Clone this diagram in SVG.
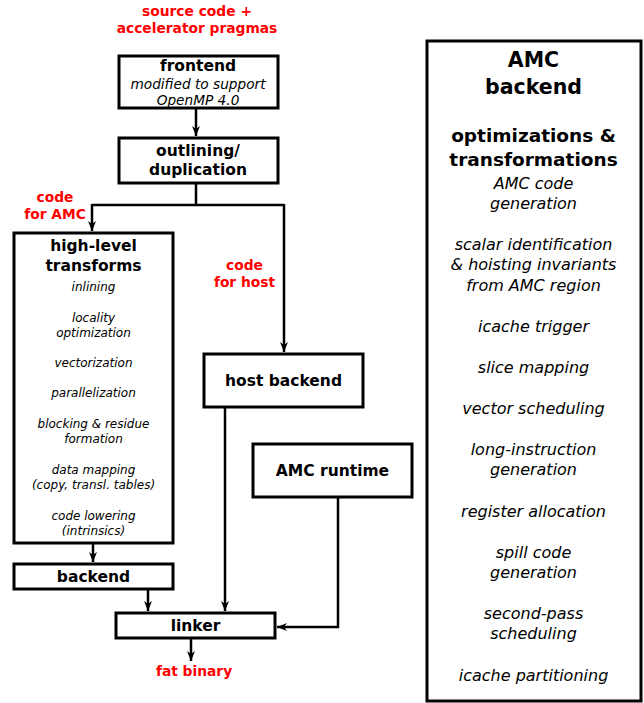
<svg xmlns="http://www.w3.org/2000/svg" width="644" height="703" viewBox="0 0 644 703">
<defs>
<style>
.box{fill:#fff;stroke:#000;stroke-width:3;stroke-linejoin:miter}
.b{font-family:"DejaVu Sans",sans-serif;font-weight:bold;font-size:15.5px;text-anchor:middle;fill:#000}
.i{font-family:"DejaVu Sans",sans-serif;font-style:italic;font-size:13.7px;text-anchor:middle;fill:#000}
.s{font-family:"DejaVu Sans",sans-serif;font-style:italic;font-size:12px;text-anchor:middle;fill:#000}
.m{font-family:"DejaVu Sans",sans-serif;font-style:italic;font-size:16px;text-anchor:middle;fill:#000}
.r{font-family:"DejaVu Sans",sans-serif;font-weight:bold;font-size:13.8px;text-anchor:middle;fill:#ff0000}
.t{font-family:"DejaVu Sans",sans-serif;font-weight:bold;font-size:20.5px;text-anchor:middle;fill:#000}
.o{font-family:"DejaVu Sans",sans-serif;font-weight:bold;font-size:18.5px;text-anchor:middle;fill:#000}
.c{fill:none;stroke:#000;stroke-width:2.5}
</style>
<marker id="ah" viewBox="-10 -5 11 10" refX="0" refY="0" markerWidth="11" markerHeight="10" markerUnits="userSpaceOnUse" orient="auto">
<path d="M0,0 L-10,-4 L-7,0 L-10,4 Z" fill="#000"/>
</marker>
</defs>
<rect width="644" height="703" fill="#fff"/>

<g id="labels">
<text class="r" x="197" y="16">source code +</text>
<text class="r" x="197" y="33">accelerator pragmas</text>
<text class="r" x="55" y="202">code</text>
<text class="r" x="55" y="219">for AMC</text>
<text class="r" x="244.5" y="270">code</text>
<text class="r" x="244.5" y="287">for host</text>
<text class="r" x="194" y="676">fat binary</text>
</g>

<g id="connectors">
<path class="c" d="M196,109 V136" marker-end="url(#ah)"/>
<path class="c" d="M196,184 V205 M92,205 H284"/>
<path class="c" d="M92,204 V231" marker-end="url(#ah)"/>
<path class="c" d="M284,204 V352" marker-end="url(#ah)"/>
<path class="c" d="M93,544 V562" marker-end="url(#ah)"/>
<path class="c" d="M148,590 V611" marker-end="url(#ah)"/>
<path class="c" d="M225,408 V611" marker-end="url(#ah)"/>
<path class="c" d="M338,498 V627 H277" marker-end="url(#ah)"/>
<path class="c" d="M191,639 V661" marker-end="url(#ah)"/>
</g>

<g id="frontend">
<rect class="box" x="119" y="56" width="159" height="52"/>
<text class="b" x="198" y="71">frontend</text>
<text class="i" x="198" y="89">modified to support</text>
<text class="i" x="198" y="105">OpenMP 4.0</text>
</g>

<g id="outlining">
<rect class="box" x="119" y="138" width="159" height="45"/>
<text class="b" x="198" y="156">outlining/</text>
<text class="b" x="198" y="175">duplication</text>
</g>

<g id="high-level">
<rect class="box" x="14" y="233" width="159" height="310"/>
<text class="b" x="93.5" y="251">high-level</text>
<text class="b" x="93.5" y="271">transforms</text>
<text class="s" x="93.5" y="291">inlining</text>
<text class="s" x="93.5" y="322">locality</text>
<text class="s" x="93.5" y="337">optimization</text>
<text class="s" x="93.5" y="367">vectorization</text>
<text class="s" x="93.5" y="397">parallelization</text>
<text class="s" x="93.5" y="428">blocking &amp; residue</text>
<text class="s" x="93.5" y="443">formation</text>
<text class="s" x="93.5" y="474">data mapping</text>
<text class="s" x="93.5" y="489">(copy, transl. tables)</text>
<text class="s" x="93.5" y="520">code lowering</text>
<text class="s" x="93.5" y="535">(intrinsics)</text>
</g>

<g id="backend">
<rect class="box" x="14" y="564" width="159" height="25"/>
<text class="b" x="93.5" y="582">backend</text>
</g>

<g id="host-backend">
<rect class="box" x="204" y="354" width="159" height="53"/>
<text class="b" x="283.5" y="386">host backend</text>
</g>

<g id="amc-runtime">
<rect class="box" x="253" y="444" width="159" height="53"/>
<text class="b" x="332.5" y="476">AMC runtime</text>
</g>

<g id="linker">
<rect class="box" x="116" y="613" width="159" height="25"/>
<text class="b" x="195.5" y="631">linker</text>
</g>

<g id="amc-backend">
<rect class="box" x="427" y="41" width="214" height="660"/>
<text class="t" x="533.5" y="67">AMC</text>
<text class="t" x="533.5" y="94">backend</text>
<text class="o" x="533.5" y="142">optimizations &amp;</text>
<text class="o" x="533.5" y="166">transformations</text>
<text class="m" x="533.5" y="189">AMC code</text>
<text class="m" x="533.5" y="209">generation</text>
<text class="m" x="533.5" y="250">scalar identification</text>
<text class="m" x="533.5" y="270">&amp; hoisting invariants</text>
<text class="m" x="533.5" y="291">from AMC region</text>
<text class="m" x="533.5" y="332">icache trigger</text>
<text class="m" x="533.5" y="373">slice mapping</text>
<text class="m" x="533.5" y="414">vector scheduling</text>
<text class="m" x="533.5" y="455">long-instruction</text>
<text class="m" x="533.5" y="475">generation</text>
<text class="m" x="533.5" y="517">register allocation</text>
<text class="m" x="533.5" y="558">spill code</text>
<text class="m" x="533.5" y="578">generation</text>
<text class="m" x="533.5" y="619">second-pass</text>
<text class="m" x="533.5" y="639">scheduling</text>
<text class="m" x="533.5" y="681">icache partitioning</text>
</g>
</svg>
